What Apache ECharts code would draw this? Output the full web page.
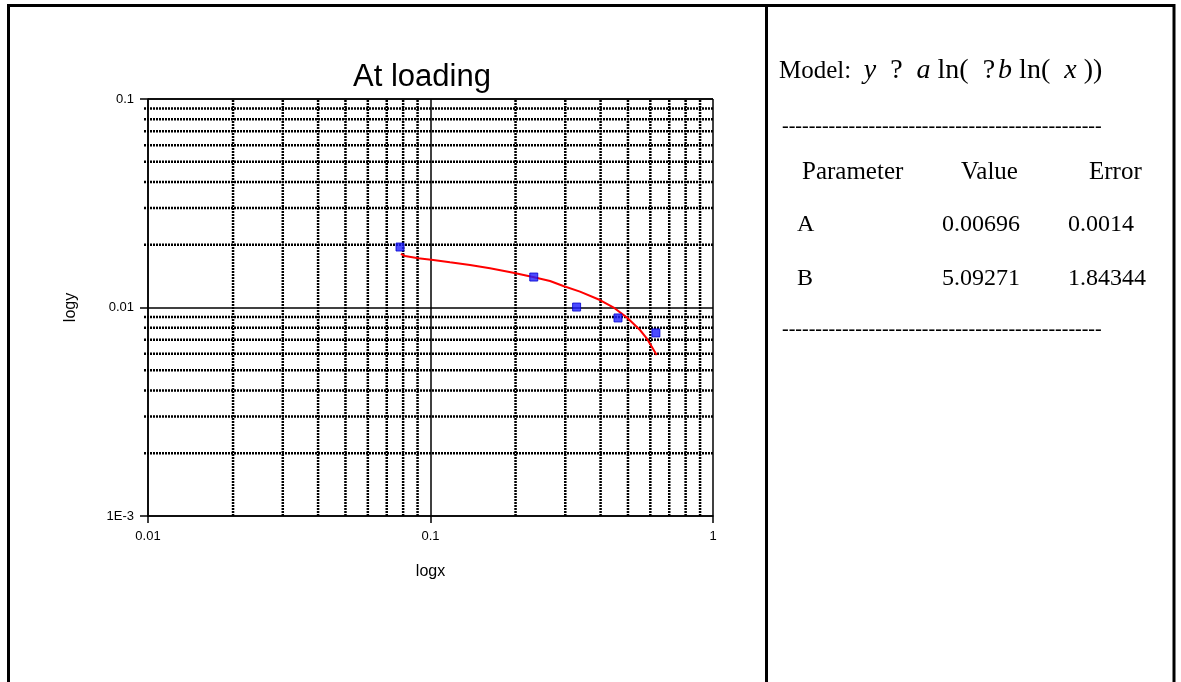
<!DOCTYPE html>
<html>
<head>
<meta charset="utf-8">
<title>At loading</title>
<script src="https://cdn.jsdelivr.net/npm/echarts@6/dist/echarts.min.js"></script>
<style>
html,body{margin:0;padding:0;background:#fff;}
#main{width:1181px;height:682px;}
</style>
</head>
<body>
<div id="main"></div>
<script>
// measured points
var pointX = [0.078, 0.232, 0.329, 0.461, 0.628];
var pointY = [0.0195, 0.0140, 0.01005, 0.00891, 0.00755];

// fitted curve
var fitX = [0.0786, 0.0812, 0.0905, 0.1023, 0.1172, 0.138, 0.1624, 0.1964, 0.2325, 0.2649, 0.2952, 0.3382, 0.398, 0.4437, 0.4948, 0.5516, 0.5825, 0.632];
var fitY = [0.01806, 0.01766, 0.01722, 0.0169, 0.01647, 0.01599, 0.01542, 0.01469, 0.01396, 0.0134, 0.01268, 0.01191, 0.01086, 0.01002, 0.00897, 0.0078, 0.00712, 0.00592];

// minor grid values (2..9 of each decade)
var xMinor = [0.02, 0.03, 0.04, 0.05, 0.06, 0.07, 0.08, 0.09, 0.2, 0.3, 0.4, 0.5, 0.6, 0.7, 0.8, 0.9];
var yMinor = [0.002, 0.003, 0.004, 0.005, 0.006, 0.007, 0.008, 0.009, 0.02, 0.03, 0.04, 0.05, 0.06, 0.07, 0.08, 0.09];

// tick labels, indexed by decade
var xTickLabels = ['0.01', '0.1', '1'];
var yTickLabels = ['1E-3', '0.01', '0.1'];

// fit results table
var paramHeader = ['Parameter', 'Value', 'Error'];
var paramNames = ['A', 'B'];
var paramValues = ['0.00696', '5.09271'];
var paramErrors = ['0.0014', '1.84344'];

var SANS = '"Liberation Sans", Arial, sans-serif';
var SERIF = '"Liberation Serif", "Times New Roman", serif';

var fitChartObj = {
    myChart : echarts.init(document.getElementById('main')),
    option : null,
    init : function(){
        var that = this;
        that.render();
    },
    gridLine : function(dir){
        // dotted minor grid line, horizontal ones poke out left as minor ticks
        return function(params, api){
            var p1, p2;
            if(dir === 'x'){
                var vx = api.value(0);
                p1 = api.coord([vx, 0.001]);
                p2 = api.coord([vx, 0.1]);
            } else {
                var vy = api.value(1);
                p1 = api.coord([0.01, vy]);
                p2 = api.coord([1, vy]);
                p1[0] -= 4;
            }
            return {
                type : 'line',
                shape : {x1 : p1[0], y1 : p1[1], x2 : p2[0], y2 : p2[1]},
                style : {stroke : '#000', lineWidth : 2.5, lineDash : [2, 1]},
                silent : true
            };
        };
    },
    panelTexts : function(){
        var arr = [];
        var dashes = new Array(49).join('-');
        arr.push({
            type : 'text', left : 779, top : 57,
            style : {
                text : '{n|Model:}{n|  }{i|y}{m|  ?  }{i|a}{m| ln(  ?}{s| }{i|b}{m| ln(  }{i|x}{m| ))}',
                rich : {
                    n : {fontFamily : SERIF, fontSize : 25, fill : '#000'},
                    m : {fontFamily : SERIF, fontSize : 28, fill : '#000'},
                    s : {fontFamily : SERIF, fontSize : 12, fill : '#000'},
                    i : {fontFamily : SERIF, fontSize : 28, fontStyle : 'italic', fill : '#000'}
                },
                fontFamily : SERIF, fontSize : 25, fill : '#000'
            }
        });
        arr.push({type : 'text', left : 782, top : 117, style : {text : dashes, fontFamily : SERIF, fontSize : 20, fill : '#000'}});
        arr.push({type : 'text', left : 782, top : 320, style : {text : dashes, fontFamily : SERIF, fontSize : 20, fill : '#000'}});
        var cols = [802, 961, 1089];
        paramHeader.forEach(function(t, i){
            arr.push({type : 'text', left : cols[i], top : 160, style : {text : t, fontFamily : SERIF, fontSize : 25, fill : '#000'}});
        });
        var cols2 = [797, 942, 1068];
        paramNames.forEach(function(t, i){
            var y = 213 + i * 54;
            var row = [t, paramValues[i], paramErrors[i]];
            row.forEach(function(s, j){
                arr.push({type : 'text', left : cols2[j], top : y, style : {text : s, fontFamily : SERIF, fontSize : 24, fill : '#000'}});
            });
        });
        return arr;
    },
    render : function(){
        var that = this;
        var pts = pointX.map(function(x, i){ return [x, pointY[i]]; });
        var fit = fitX.map(function(x, i){ return [x, fitY[i]]; });
        var frame = [
            {type : 'line', shape : {x1 : 8.5, y1 : 5.5, x2 : 1174, y2 : 5.5}, style : {stroke : '#000', lineWidth : 3}},
            {type : 'line', shape : {x1 : 8.5, y1 : 4, x2 : 8.5, y2 : 682}, style : {stroke : '#000', lineWidth : 3}},
            {type : 'line', shape : {x1 : 766.5, y1 : 4, x2 : 766.5, y2 : 682}, style : {stroke : '#000', lineWidth : 3}},
            {type : 'line', shape : {x1 : 1174, y1 : 4, x2 : 1174, y2 : 682}, style : {stroke : '#000', lineWidth : 3}}
        ];
        that.option = {
            backgroundColor : '#fff',
            animation : false,
            title : {
                text : 'At loading',
                left : 417, top : 57, textAlign : 'center',
                textStyle : {fontFamily : SANS, fontSize : 31, fontWeight : 'normal', color : '#000'}
            },
            grid : {left : 148, top : 99, width : 565, height : 417},
            xAxis : {
                type : 'log', logBase : 10, min : 0.01, max : 1,
                name : 'logx', nameLocation : 'middle', nameGap : 48,
                nameTextStyle : {fontFamily : SANS, fontSize : 16, color : '#000'},
                axisLine : {lineStyle : {color : '#000', width : 1.5}},
                axisTick : {inside : false, length : 7, lineStyle : {color : '#000', width : 1.5}},
                axisLabel : {
                    margin : 14, color : '#000', fontFamily : SANS, fontSize : 13,
                    formatter : function(v){ return xTickLabels[Math.round(Math.log10(v)) + 2]; }
                },
                splitLine : {show : true, lineStyle : {color : '#000', width : 1.5}}
            },
            yAxis : {
                type : 'log', logBase : 10, min : 0.001, max : 0.1,
                name : 'logy', nameLocation : 'middle', nameGap : 69, nameRotate : 90,
                nameTextStyle : {fontFamily : SANS, fontSize : 16, color : '#000'},
                axisLine : {lineStyle : {color : '#000', width : 1.5}},
                axisTick : {inside : false, length : 8, lineStyle : {color : '#000', width : 1.5}},
                axisLabel : {
                    margin : 14, color : '#000', fontFamily : SANS, fontSize : 13,
                    formatter : function(v){ return yTickLabels[Math.round(Math.log10(v)) + 3]; }
                },
                splitLine : {show : true, lineStyle : {color : '#000', width : 1.5}}
            },
            graphic : frame.concat(that.panelTexts()),
            series : [
                {
                    type : 'custom', silent : true, z : 1,
                    data : xMinor.map(function(v){ return [v, 0.01]; }),
                    renderItem : that.gridLine('x')
                },
                {
                    type : 'custom', silent : true, z : 1,
                    data : yMinor.map(function(v){ return [0.1, v]; }),
                    renderItem : that.gridLine('y')
                },
                {
                    type : 'line', data : fit, showSymbol : false, symbol : 'none', z : 3,
                    lineStyle : {color : '#ff0000', width : 2}
                },
                {
                    type : 'scatter', data : pts, symbol : 'rect', symbolSize : 8, z : 4,
                    itemStyle : {color : '#1f1fff', borderColor : '#0000d0', borderWidth : 1}
                }
            ]
        };
        that.myChart.setOption(that.option);
    }
};
fitChartObj.init();
</script>
</body>
</html>
